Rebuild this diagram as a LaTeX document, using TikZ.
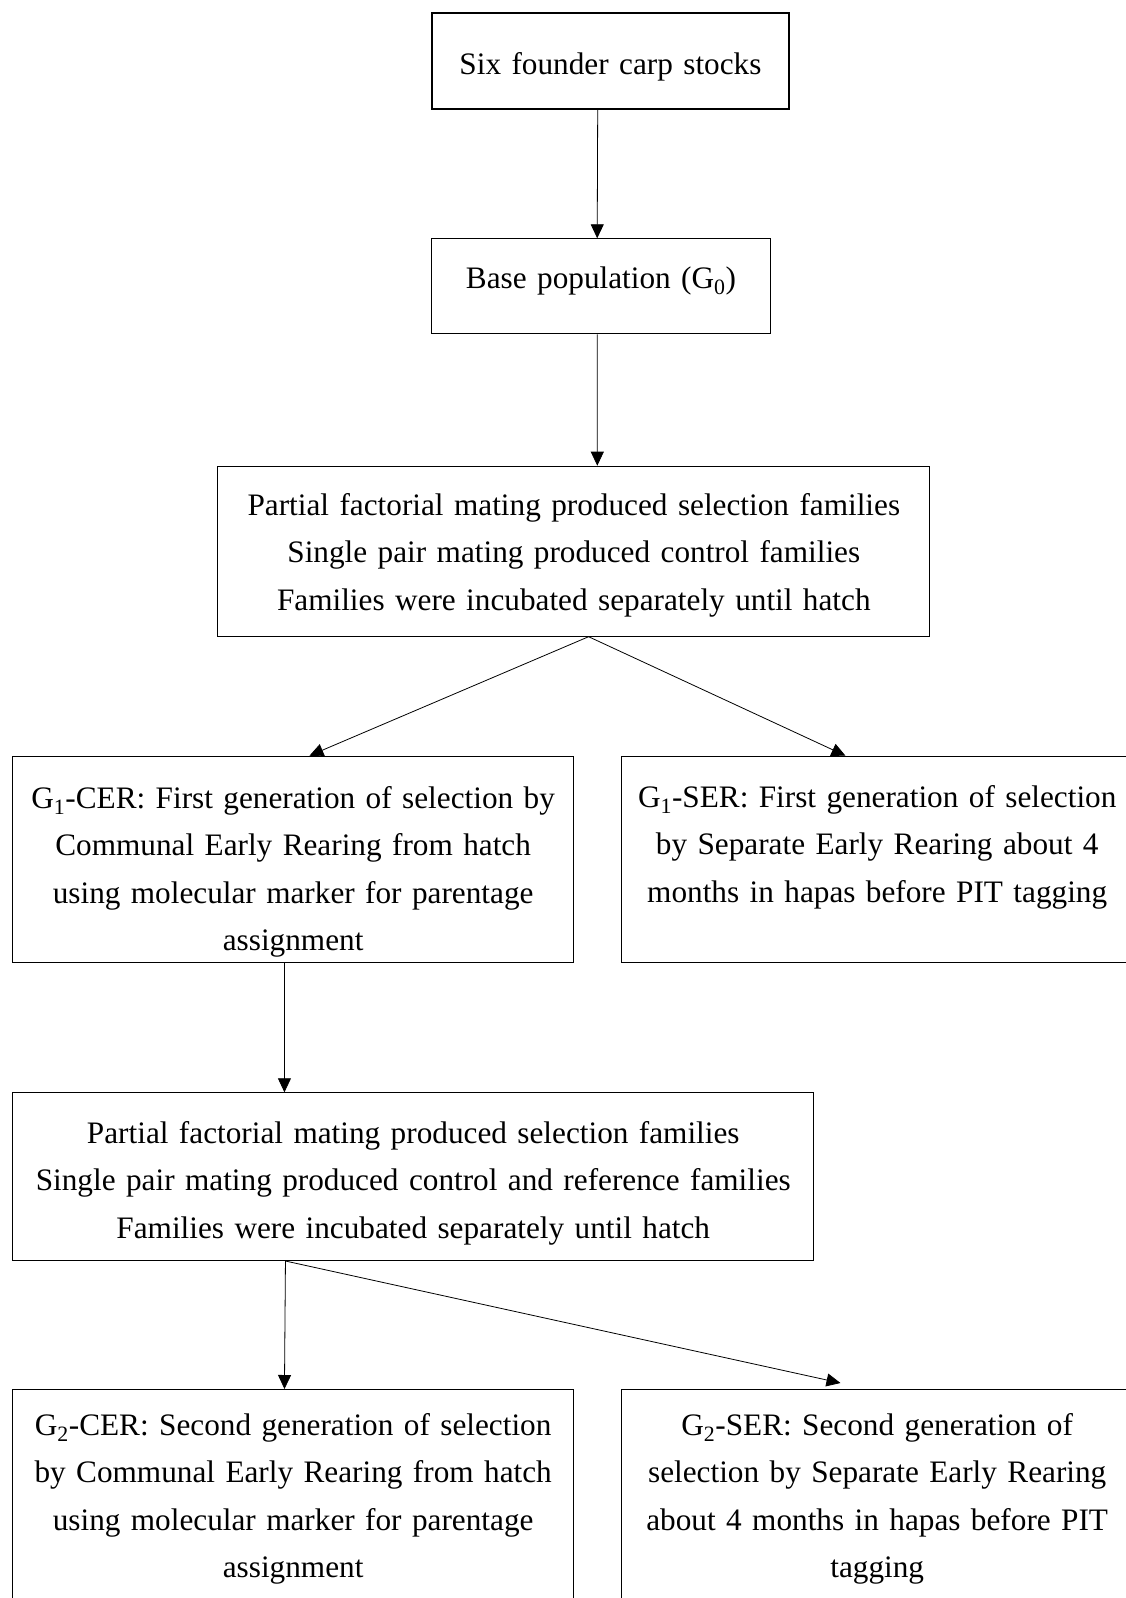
\documentclass[tikz,border=0pt]{standalone}
\usepackage{fontspec}
\setmainfont{Liberation Serif}
\usetikzlibrary{arrows.meta,positioning}
\newcommand{\stagefont}{\fontsize{31.25}{47.3}\selectfont}
\tikzset{
  carp box/.style={draw,line width=1pt,anchor=north west,inner sep=0pt,align=center,font=\stagefont},
  carp arrow/.style={line width=0.8pt,-{Triangle[length=14pt,width=13pt]}}
}

\begin{document}
\begin{tikzpicture}[x=1pt,y=-1pt]
  \useasboundingbox (0,0) rectangle (1126,1598);
  \fill[white] (0,0) rectangle (1126,1598);
  \clip (0,0) rectangle (1126,1598);

  % boxes, top-left corners in pixels
  \node[carp box,line width=2pt,text width=357pt,text height=61pt,text depth=35pt] (founders) at (431,12) {Six founder carp stocks};
  \node[carp box,text width=339pt,text height=50pt,text depth=45pt] (base) at (431,238.3) {Base population (G\textsubscript{0})};
  \node[carp box,text width=712pt,text height=49.3pt,text depth=120.7pt] (mating1) at (217.3,465.7)
    {Partial factorial mating produced selection families\\Single pair mating produced control families\\Families were incubated separately until hatch};
  \node[carp box,text width=560.7pt,text height=52.3pt,text depth=154pt] (g1cer) at (12.3,755.7)
    {G\textsubscript{1}-CER: First generation of selection by\\Communal Early Rearing from hatch\\using molecular marker for parentage\\assignment};
  \node[carp box,text width=512pt,text height=51.3pt,text depth=155pt] (g1ser) at (620.7,755.7)
    {G\textsubscript{1}-SER: First generation of selection\\by Separate Early Rearing about 4\\months in hapas before PIT tagging};
  \node[carp box,text width=800.9pt,text height=50.7pt,text depth=117pt] (mating2) at (12.3,1092.3)
    {Partial factorial mating produced selection families\\Single pair mating produced control and reference families\\Families were incubated separately until hatch};
  \node[carp box,text width=560.7pt,text height=46pt,text depth=230pt] (g2cer) at (12.3,1389)
    {G\textsubscript{2}-CER: Second generation of selection\\by Communal Early Rearing from hatch\\using molecular marker for parentage\\assignment};
  \node[carp box,text width=512pt,text height=46pt,text depth=230pt] (g2ser) at (620.7,1389)
    {G\textsubscript{2}-SER: Second generation of\\selection by Separate Early Rearing\\about 4 months in hapas before PIT\\tagging};

  % arrows
  \draw[carp arrow] ([xshift=-12.8pt]founders.south) -- ([xshift=-3.8pt]base.north);
  \draw[carp arrow] ([xshift=-3.8pt]base.south) -- ([xshift=23.5pt]mating1.north);
  \draw[carp arrow] ([xshift=14.8pt]mating1.south) -- ([xshift=16.3pt]g1cer.north);
  \draw[carp arrow] ([xshift=14.8pt]mating1.south) -- ([xshift=-31.7pt]g1ser.north);
  \draw[carp arrow] ([xshift=-8.7pt]g1cer.south) -- ([xshift=-128.8pt]mating2.north);
  \draw[carp arrow] ([xshift=-127.8pt]mating2.south) -- ([xshift=-8.7pt]g2cer.north);
  \draw[carp arrow] ([xshift=-127.8pt]mating2.south) -- ([xshift=-36.7pt,yshift=6pt]g2ser.north);
\end{tikzpicture}
\end{document}
